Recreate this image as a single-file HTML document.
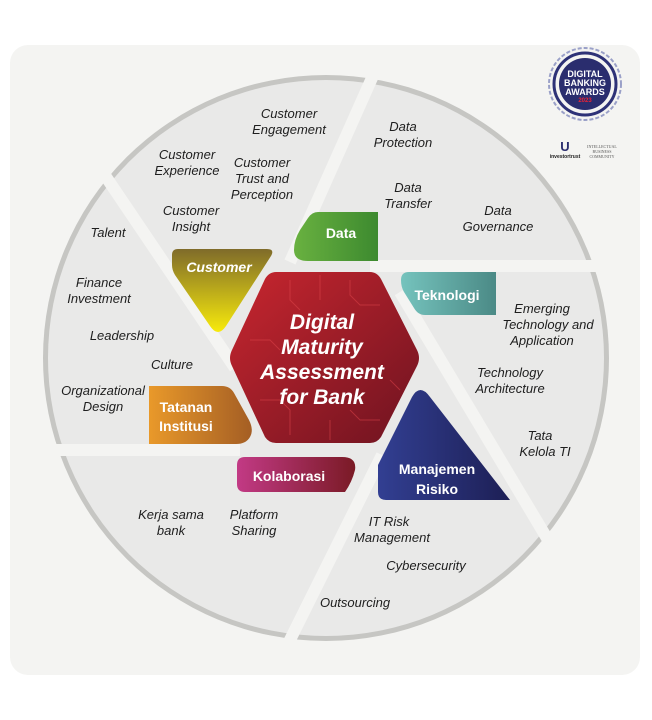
<!DOCTYPE html>
<html><head><meta charset="utf-8"><style>
html,body{margin:0;padding:0;background:#fff;}
svg{display:block}
.t{font-family:"Liberation Sans",sans-serif;font-style:italic;font-size:13px;fill:#1e1e1e;text-anchor:middle}
.w{font-family:"Liberation Sans",sans-serif;font-weight:bold;fill:#fff;text-anchor:middle}
</style></head><body>
<svg width="652" height="720" viewBox="0 0 652 720" xmlns="http://www.w3.org/2000/svg">
<defs>
<linearGradient id="gc" x1="0" y1="0" x2="0" y2="1"><stop offset="0" stop-color="#7f6b2a"/><stop offset="1" stop-color="#f7ea0c"/></linearGradient>
<linearGradient id="gd" x1="0" y1="0" x2="1" y2="0"><stop offset="0" stop-color="#69b140"/><stop offset="1" stop-color="#3d8a2f"/></linearGradient>
<linearGradient id="gt" x1="0" y1="0" x2="1" y2="0"><stop offset="0" stop-color="#75c3bd"/><stop offset="1" stop-color="#4b8a86"/></linearGradient>
<linearGradient id="gm" x1="0" y1="0" x2="1" y2="0"><stop offset="0" stop-color="#323f92"/><stop offset="1" stop-color="#1d1f55"/></linearGradient>
<linearGradient id="gi" x1="0" y1="0" x2="1" y2="0"><stop offset="0" stop-color="#e9992a"/><stop offset="1" stop-color="#a45e24"/></linearGradient>
<linearGradient id="gk" x1="0" y1="0" x2="1" y2="0"><stop offset="0" stop-color="#c23a85"/><stop offset="1" stop-color="#7a1a25"/></linearGradient>
<linearGradient id="gh" x1="0" y1="0" x2="1" y2="1"><stop offset="0" stop-color="#c8262f"/><stop offset="1" stop-color="#6e1320"/></linearGradient>
</defs>
<rect x="10" y="45" width="630" height="630" rx="18" fill="#f4f4f2"/>
<circle cx="326" cy="358" r="283" fill="#c6c6c3"/>
<circle cx="326" cy="358" r="278" fill="#e9e9e8"/>
<g stroke="#f4f4f2" stroke-width="12" stroke-linecap="butt">
<line x1="290" y1="262" x2="380" y2="60"/>
<line x1="370" y1="266" x2="640" y2="266"/>
<line x1="400" y1="292" x2="560" y2="560"/>
<line x1="382" y1="455" x2="280" y2="660"/>
<line x1="10" y1="450" x2="240" y2="450"/>
<line x1="100" y1="168" x2="235" y2="368"/>
</g>
<path d="M172,255 Q172,249 178,249 L267,249 Q275,249 271,256 L226,326 Q218,338 210,326 L175,275 Q172,270 172,265 Z" fill="url(#gc)"/>
<text class="w" x="219" y="272" font-size="14" font-style="italic">Customer</text>
<path d="M318,212 L378,212 L378,261 L308,261 Q294,261 294,250 Q294,240 300,230 L308,218 Q312,212 318,212 Z" fill="url(#gd)"/>
<text class="w" x="341" y="238" font-size="14">Data</text>
<path d="M401,280 Q401,272 409,272 L496,272 L496,315 L425,315 Q418,315 414,308 L404,292 Q401,287 401,280 Z" fill="url(#gt)"/>
<text class="w" x="447" y="300" font-size="14">Teknologi</text>
<path d="M386,500 Q378,500 378,492 L378,465 L412,397 Q420,383 430,397 L510,500 Z" fill="url(#gm)"/>
<text class="w" x="437" y="474" font-size="14">Manajemen</text>
<text class="w" x="437" y="494" font-size="14">Risiko</text>
<path d="M149,386 L222,386 Q230,386 234,393 L249,420 Q254,430 250,437 Q246,444 236,444 L149,444 Z" fill="url(#gi)"/>
<text class="w" x="186" y="412" font-size="14">Tatanan</text>
<text class="w" x="186" y="431" font-size="14">Institusi</text>
<path d="M245,457 L342,457 Q357,457 355,470 Q352,482 345,492 L245,492 Q237,492 237,484 L237,465 Q237,457 245,457 Z" fill="url(#gk)"/>
<text class="w" x="289" y="481" font-size="14">Kolaborasi</text>
<path d="M276,272 L370,272 Q377,272 381,279 L417,350 Q421,358 417,366 L381,437 Q377,443 370,443 L276,443 Q269,443 265,437 L232,366 Q228,358 232,350 L265,279 Q269,272 276,272 Z" fill="url(#gh)"/>
<g stroke="#e0454c" stroke-width="1" fill="none" opacity="0.5">
<path d="M290,280 L290,300 L300,310 M320,275 L320,300 M350,280 L350,295 L360,305 L380,305 M250,340 L270,340 L280,350 M390,380 L400,390 M260,400 L280,400 L290,410 L290,435 M350,410 L360,420 L380,420 M330,420 L330,440"/>
</g>
<text class="w" x="322" y="329" font-size="21" font-style="italic">Digital</text>
<text class="w" x="322" y="354" font-size="21" font-style="italic">Maturity</text>
<text class="w" x="322" y="379" font-size="21" font-style="italic">Assessment</text>
<text class="w" x="322" y="404" font-size="21" font-style="italic">for Bank</text>
<g class="t">
<text x="289" y="118">Customer</text><text x="289" y="134">Engagement</text>
<text x="187" y="159">Customer</text><text x="187" y="175">Experience</text>
<text x="262" y="167">Customer</text><text x="262" y="183">Trust and</text><text x="262" y="199">Perception</text>
<text x="191" y="215">Customer</text><text x="191" y="231">Insight</text>
<text x="403" y="131">Data</text><text x="403" y="147">Protection</text>
<text x="408" y="192">Data</text><text x="408" y="208">Transfer</text>
<text x="498" y="215">Data</text><text x="498" y="231">Governance</text>
<text x="108" y="237">Talent</text>
<text x="99" y="287">Finance</text><text x="99" y="303">Investment</text>
<text x="122" y="340">Leadership</text>
<text x="172" y="369">Culture</text>
<text x="103" y="395">Organizational</text><text x="103" y="411">Design</text>
<text x="542" y="313">Emerging</text><text x="548" y="329">Technology and</text><text x="542" y="345">Application</text>
<text x="510" y="377">Technology</text><text x="510" y="393">Architecture</text>
<text x="540" y="440">Tata</text><text x="545" y="456">Kelola TI</text>
<text x="171" y="519">Kerja sama</text><text x="171" y="535">bank</text>
<text x="254" y="519">Platform</text><text x="254" y="535">Sharing</text>
<text x="389" y="526">IT Risk</text><text x="392" y="542">Management</text>
<text x="426" y="570">Cybersecurity</text>
<text x="355" y="607">Outsourcing</text>
</g>
<circle cx="585" cy="84" r="36" fill="none" stroke="#9aa0c8" stroke-width="2" stroke-dasharray="4 2"/>
<circle cx="585" cy="84" r="31" fill="none" stroke="#2e3277" stroke-width="3"/>
<circle cx="585" cy="84" r="26" fill="#2a2d6e"/>
<text class="w" x="585" y="77" font-size="9">DIGITAL</text>
<text class="w" x="585" y="86" font-size="9">BANKING</text>
<text class="w" x="585" y="95" font-size="9">AWARDS</text>
<text x="585" y="102" font-size="6" fill="#e23" text-anchor="middle" font-family="Liberation Sans" font-weight="bold">2023</text>
<text x="565" y="151" font-size="13" fill="#2a2d6e" text-anchor="middle" font-family="Liberation Sans" font-weight="bold">U</text>
<text x="565" y="158" font-size="5" fill="#222" text-anchor="middle" font-family="Liberation Sans" font-weight="bold">investortrust</text>
<text x="602" y="148" font-size="4" fill="#555" text-anchor="middle" font-family="Liberation Serif">INTELLECTUAL</text>
<text x="602" y="153" font-size="4" fill="#555" text-anchor="middle" font-family="Liberation Serif">BUSINESS</text>
<text x="602" y="158" font-size="4" fill="#555" text-anchor="middle" font-family="Liberation Serif">COMMUNITY</text>
</svg>
</body></html>
